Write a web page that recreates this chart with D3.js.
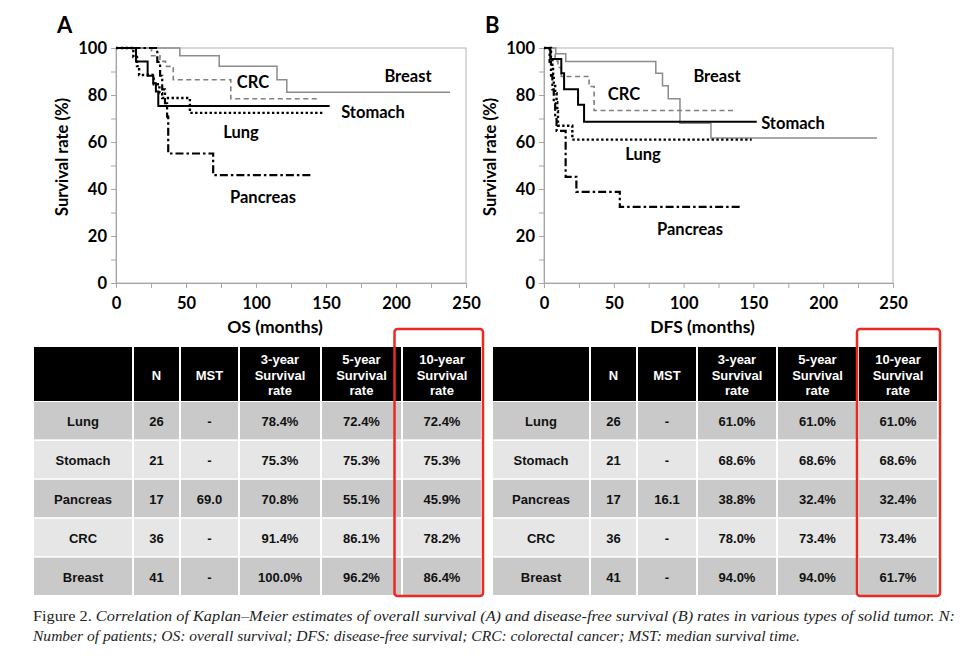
<!DOCTYPE html>
<html>
<head>
<meta charset="utf-8">
<script src="https://cdn.jsdelivr.net/npm/d3@7"></script>
<style>
  body { margin: 0; background: #fff; }
  svg { display: block; }
</style>
</head>
<body>
<div id="chart"></div>
<script>
// ---- curve data: [months, survival %] ----
const osLung     = [[0,100],[12.4,96.2],[15,92.3],[16.5,88.5],[27,84.6],[31,80.8],[33,78.7],[52.8,72.4],[147.8,72.4]];
const osStomach  = [[0,100],[14.3,94.3],[22.6,88.2],[26.6,85],[28.5,81.5],[30.2,75.3],[152.6,75.3]];
const osPancreas = [[0,100],[29.5,94.1],[31.5,88.2],[33,82.4],[35,76.5],[36.5,70.8],[37.3,55.1],[69.4,45.9],[139.5,45.9]];
const osCRC      = [[0,100],[25.4,96.7],[31.4,94.3],[35.4,92.2],[40.9,86.5],[82,78.4],[145,78.4]];
const osBreast   = [[0,100],[45.6,96.7],[73.7,92.2],[115,86.5],[122,81.2],[238.6,81.2]];

const dfsLung     = [[0,100],[5,96.2],[6,92.3],[6.5,88.5],[7,84.6],[8,80.8],[9,76.9],[9.5,73.1],[10,66.9],[20.3,61],[148.8,61]];
const dfsStomach  = [[0,100],[4.5,95.3],[12.4,89.3],[14.4,82.5],[24.4,75.8],[28.7,68.6],[152.4,68.6]];
const dfsPancreas = [[0,100],[4,94.1],[5,88.2],[6,82.4],[7,76.5],[8,70.6],[9,64.7],[15.5,45.2],[23.2,38.8],[54.3,32.4],[140.4,32.4]];
const dfsCRC      = [[0,100],[5,97.2],[8,94.4],[10,91.7],[12.4,87.9],[32.3,83.6],[35.9,73.4],[136.1,73.4]];
const dfsBreast   = [[0,100],[8.4,97.6],[15.6,94.3],[80.1,89.3],[84.9,83.9],[89,78.4],[97.4,68],[119.6,61.7],[238.5,61.7]];

// ---- table data ----
const tumors = ["Lung", "Stomach", "Pancreas", "CRC", "Breast"];
const headers = ["", "N", "MST", "3-year\nSurvival\nrate", "5-year\nSurvival\nrate", "10-year\nSurvival\nrate"];
const nPatients = ["26", "21", "17", "36", "41"];
const osMst = ["-", "-", "69.0", "-", "-"];
const os3 = ["78.4%", "75.3%", "70.8%", "91.4%", "100.0%"];
const os5 = ["72.4%", "75.3%", "55.1%", "86.1%", "96.2%"];
const os10 = ["72.4%", "75.3%", "45.9%", "78.2%", "86.4%"];
const dfsMst = ["-", "-", "16.1", "-", "-"];
const dfs3 = ["61.0%", "68.6%", "38.8%", "78.0%", "94.0%"];
const dfs5 = ["61.0%", "68.6%", "32.4%", "73.4%", "94.0%"];
const dfs10 = ["61.0%", "68.6%", "32.4%", "73.4%", "61.7%"];

const xTicks = [0, 50, 100, 150, 200, 250];
const yTicks = [0, 20, 40, 60, 80, 100];

// line styles per tumor
const styles = {
  Lung:     { stroke: "#000", width: 2.4, dash: "2.4,2.4" },
  Stomach:  { stroke: "#000", width: 2, dash: null },
  Pancreas: { stroke: "#000", width: 2.2, dash: "8,3,2.5,3" },
  CRC:      { stroke: "#7f7f7f", width: 1.6, dash: "5,3.5" },
  Breast:   { stroke: "#8c8c8c", width: 1.5, dash: null }
};

const W = 963, H = 656;
const svg = d3.select("#chart").append("svg").attr("width", W).attr("height", H);
const chartFont = "Lato, 'Open Sans', sans-serif";
const tableFont = "'Liberation Sans', Arial, sans-serif";

function drawPanel(opt) {
  const x = d3.scaleLinear().domain([0, 250]).range([opt.left, opt.right]);
  const y = d3.scaleLinear().domain([0, 100]).range([283, 48]);
  const g = svg.append("g");

  // plot frame
  g.append("rect")
    .attr("x", x(0)).attr("y", y(100))
    .attr("width", x(250) - x(0)).attr("height", y(0) - y(100))
    .attr("fill", "none").attr("stroke", "#b4b4b4");

  const yAxis = g.append("g")
    .attr("transform", `translate(${x(0)},0)`)
    .call(d3.axisLeft(y).tickValues(d3.range(0, 101, 10))
      .tickFormat(d => yTicks.includes(d) ? d : "")
      .tickSize(5).tickSizeOuter(0).tickPadding(4));
  const xAxis = g.append("g")
    .attr("transform", `translate(0,${y(0)})`)
    .call(d3.axisBottom(x).tickValues(d3.range(0, 251, 25))
      .tickFormat(d => xTicks.includes(d) ? d : "")
      .tickSize(5).tickSizeOuter(0).tickPadding(9));
  [xAxis, yAxis].forEach(a => {
    a.select(".domain").attr("stroke", "#a6a6a6");
    a.selectAll(".tick line").attr("stroke", "#a6a6a6");
    a.selectAll("text").attr("fill", "#000").attr("font-family", chartFont)
      .attr("font-weight", "bold").attr("font-size", 16.5);
  });

  const line = d3.line().x(d => x(d[0])).y(d => y(d[1])).curve(d3.curveStepAfter);
  opt.series.forEach(s => {
    const st = styles[s.name];
    g.append("path").datum(s.data)
      .attr("fill", "none")
      .attr("stroke", st.stroke)
      .attr("stroke-width", st.width)
      .attr("stroke-dasharray", st.dash)
      .attr("d", line);
  });

  opt.labels.forEach(l => {
    g.append("text").attr("x", l.x).attr("y", l.y)
      .attr("text-anchor", "middle").attr("dominant-baseline", "central")
      .attr("font-family", chartFont).attr("font-weight", "bold").attr("font-size", 16.5)
      .text(l.text);
  });

  // axis titles
  g.append("text")
    .attr("transform", `translate(${opt.left - 54},157) rotate(-90)`)
    .attr("text-anchor", "middle").attr("dominant-baseline", "central")
    .attr("font-family", chartFont).attr("font-weight", "bold").attr("font-size", 16.5)
    .text("Survival rate (%)");
  g.append("text")
    .attr("x", (opt.left + opt.right) / 2 - 16).attr("y", 333)
    .attr("text-anchor", "middle")
    .attr("font-family", chartFont).attr("font-weight", "bold").attr("font-size", 17.5)
    .text(opt.xTitle);

  g.append("text").attr("x", opt.left - 59).attr("y", 33)
    .attr("font-family", chartFont).attr("font-weight", "bold").attr("font-size", 22)
    .text(opt.tag);
}

drawPanel({
  left: 116, right: 466, tag: "A", xTitle: "OS (months)",
  series: [
    { name: "Breast", data: osBreast }, { name: "CRC", data: osCRC },
    { name: "Lung", data: osLung }, { name: "Pancreas", data: osPancreas },
    { name: "Stomach", data: osStomach }
  ],
  labels: [
    { text: "Breast", x: 408, y: 76 }, { text: "CRC", x: 253, y: 82 },
    { text: "Stomach", x: 373, y: 112 }, { text: "Lung", x: 241, y: 132 },
    { text: "Pancreas", x: 263, y: 197 }
  ]
});

drawPanel({
  left: 544, right: 893, tag: "B", xTitle: "DFS (months)",
  series: [
    { name: "Breast", data: dfsBreast }, { name: "CRC", data: dfsCRC },
    { name: "Lung", data: dfsLung }, { name: "Pancreas", data: dfsPancreas },
    { name: "Stomach", data: dfsStomach }
  ],
  labels: [
    { text: "Breast", x: 717, y: 76 }, { text: "CRC", x: 624, y: 94 },
    { text: "Stomach", x: 793, y: 123 }, { text: "Lung", x: 643, y: 154 },
    { text: "Pancreas", x: 690, y: 229 }
  ]
});

function drawTable(cols, columns, boxLeft, boxRight) {
  const g = svg.append("g");
  const rowBand = d3.scaleBand().domain(tumors).range([402, 595]).paddingInner(0.04);

  // header
  headers.forEach((h, i) => {
    g.append("rect").attr("x", cols[i] + 1).attr("y", 347)
      .attr("width", cols[i + 1] - cols[i] - 2).attr("height", 54).attr("fill", "#000");
    const lines = h.split("\n");
    const t = g.append("text")
      .attr("text-anchor", "middle").attr("fill", "#fff")
      .attr("font-family", tableFont).attr("font-weight", "bold").attr("font-size", 13);
    lines.forEach((ln, k) => {
      t.append("tspan").attr("x", (cols[i] + cols[i + 1]) / 2)
        .attr("y", 375 + (k - (lines.length - 1) / 2) * 15.5)
        .attr("dominant-baseline", "central").text(ln);
    });
  });

  // body
  tumors.forEach((tm, r) => {
    const values = [tm].concat(columns.map(c => c[r]));
    values.forEach((v, i) => {
      g.append("rect").attr("x", cols[i] + 1).attr("y", rowBand(tm))
        .attr("width", cols[i + 1] - cols[i] - 2).attr("height", rowBand.bandwidth())
        .attr("fill", r % 2 === 0 ? "#c9c9c9" : "#e6e6e6");
      g.append("text").attr("x", (cols[i] + cols[i + 1]) / 2)
        .attr("y", rowBand(tm) + rowBand.bandwidth() / 2 + 1)
        .attr("text-anchor", "middle").attr("dominant-baseline", "central")
        .attr("font-family", tableFont).attr("font-weight", "bold").attr("font-size", 13)
        .attr("fill", "#111").text(v);
    });
  });

  // red highlight around 10-year column
  g.append("rect").attr("x", boxLeft).attr("y", 329)
    .attr("width", boxRight - boxLeft).attr("height", 267)
    .attr("rx", 3).attr("fill", "none").attr("stroke", "#ea2a22").attr("stroke-width", 2.5);
}

drawTable([33, 133, 180, 239, 321, 402, 482], [nPatients, osMst, os3, os5, os10], 394.5, 483);
drawTable([492, 590, 637, 697, 777, 858, 938], [nPatients, dfsMst, dfs3, dfs5, dfs10], 857, 940);

// caption
const cap = svg.append("g").attr("font-family", "'Liberation Serif', 'DejaVu Serif', serif")
  .attr("font-size", 14).attr("fill", "#222");
const c1 = cap.append("text").attr("x", 33).attr("y", 621)
  .attr("textLength", 922).attr("lengthAdjust", "spacingAndGlyphs");
c1.append("tspan").text("Figure 2. ");
c1.append("tspan").attr("font-style", "italic")
  .text("Correlation of Kaplan\u2013Meier estimates of overall survival (A) and disease-free survival (B) rates in various types of solid tumor. N:");
cap.append("text").attr("x", 33).attr("y", 641)
  .attr("textLength", 767).attr("lengthAdjust", "spacingAndGlyphs")
  .attr("font-style", "italic")
  .text("Number of patients; OS: overall survival; DFS: disease-free survival; CRC: colorectal cancer; MST: median survival time.");
</script>
</body>
</html>
